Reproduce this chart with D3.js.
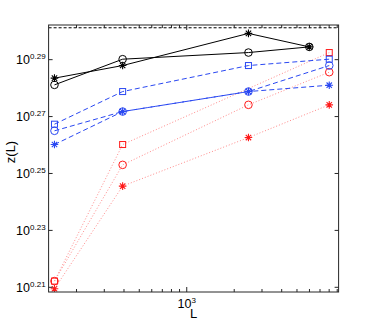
<!DOCTYPE html>
<html>
<head>
<meta charset="utf-8">
<script src="https://cdn.jsdelivr.net/npm/d3@7"></script>
<style>
  body { margin: 0; background: #fff; }
  svg { display: block; font-family: "Liberation Sans", Arial, sans-serif; }
</style>
</head>
<body>
<div id="chart"></div>
<script>
/* data */
const L_black = [146, 395, 2480, 6030];
const L_color = [146, 395, 2480, 8070];
const L_redSq = [146, 395, 8070];

const blackCircle = [1.9097, 1.9498, 1.9603, 1.9693];
const blackStar   = [1.9201, 1.9398, 1.9909, 1.9693];
const blueSquare  = [1.8499, 1.8994, 1.9398, 1.9498];
const blueCircle  = [1.8400, 1.8689, 1.8994, 1.9398];
const blueStar    = [1.8197, 1.8689, 1.8994, 1.9092];
const redSquare   = [1.6293, 1.8197, 1.9603];
const redCircle   = [1.6293, 1.7900, 1.8791, 1.9294];
const redStar     = [1.6192, 1.7595, 1.8300, 1.8791];

const limitLine = 2;                 /*dashed reference line z = 2*/
const yTickExps = ["0.21", "0.23", "0.25", "0.27", "0.29"];
const xTickExps = ["3"];
const xMinor = [200, 300, 400, 500, 600, 700, 800, 900, 2000, 3000, 4000, 5000, 6000, 7000, 8000, 9000];

const svgW = 374, svgH = 328;
const plotLeft = 48.6, plotTop = 25, plotW = 290, plotH = 267;
const axisColor = "#262626";
const blue = "#2a48f2";
const red = "#ff1a1a";
const redLine = "#ff8a8a";

const svg = d3.select("#chart").append("svg")
  .attr("width", svgW).attr("height", svgH);

const x = d3.scaleLog().domain([134, 9250]).range([plotLeft, plotLeft + plotW]);
const y = d3.scaleLog().domain([1.615, 2.0045]).range([plotTop + plotH, plotTop]);

/*series definitions built from the arrays above*/
const series = [
  {L: L_color, z: redStar,    color: red,  line: redLine, dash: "1,2", marker: "star"},
  {L: L_color, z: redCircle,  color: red,  line: redLine, dash: "1,2", marker: "circle"},
  {L: L_redSq, z: redSquare,  color: red,  line: redLine, dash: "1,2", marker: "square"},
  {L: L_color, z: blueStar,   color: blue, line: blue,    dash: "5,3", marker: "star"},
  {L: L_color, z: blueCircle, color: blue, line: blue,    dash: "5,3", marker: "circle"},
  {L: L_color, z: blueSquare, color: blue, line: blue,    dash: "5,3", marker: "square"},
  {L: L_black, z: blackCircle, color: "#000", line: "#000", dash: null, marker: "circle"},
  {L: L_black, z: blackStar,   color: "#000", line: "#000", dash: null, marker: "star"}
];

svg.append("defs").append("clipPath").attr("id", "clip")
  .append("rect").attr("x", plotLeft).attr("y", plotTop).attr("width", plotW).attr("height", plotH);

const plot = svg.append("g").attr("clip-path", "url(#clip)");

/*dashed line at z = 2*/
plot.append("line")
  .attr("x1", plotLeft).attr("x2", plotLeft + plotW)
  .attr("y1", y(limitLine)).attr("y2", y(limitLine))
  .attr("stroke", "#000").attr("stroke-width", 1)
  .attr("stroke-dasharray", "3,2");

const lineGen = d3.line().x(d => x(d[0])).y(d => y(d[1]));

function starPath(r) {
  const d = r * 0.707;
  return `M${-r},0L${r},0M0,${-r}L0,${r}M${-d},${-d}L${d},${d}M${-d},${d}L${d},${-d}`;
}

series.forEach(s => {
  const pts = s.L.map((l, i) => [l, s.z[i]]);
  plot.append("path")
    .attr("d", lineGen(pts))
    .attr("fill", "none")
    .attr("stroke", s.line)
    .attr("stroke-width", 1)
    .attr("stroke-dasharray", s.dash);

  const g = plot.append("g");
  pts.forEach(p => {
    const cx = x(p[0]), cy = y(p[1]);
    if (s.marker === "circle") {
      g.append("circle").attr("cx", cx).attr("cy", cy).attr("r", 3.8)
        .attr("fill", "none").attr("stroke", s.color).attr("stroke-width", 1);
    } else if (s.marker === "square") {
      g.append("rect").attr("x", cx - 3).attr("y", cy - 3).attr("width", 6).attr("height", 6)
        .attr("fill", "none").attr("stroke", s.color).attr("stroke-width", 1);
    } else {
      g.append("path").attr("d", starPath(3.8))
        .attr("transform", `translate(${cx},${cy})`)
        .attr("fill", "none").attr("stroke", s.color).attr("stroke-width", 1.1);
    }
  });
});

/*axes: ticks point inward like the original*/
function styleAxis(g) {
  g.select(".domain").remove();
  g.selectAll("line").attr("stroke", axisColor);
  g.selectAll("text").attr("fill", "#000");
}

const yMajor = yTickExps.map(e => Math.pow(10, +e));
const xMajor = xTickExps.map(e => Math.pow(10, +e));

/*left y axis with 10^e labels*/
const yAxisG = svg.append("g")
  .attr("transform", `translate(${plotLeft},0)`)
  .call(d3.axisLeft(y).tickValues(yMajor).tickSizeInner(-4).tickSizeOuter(0).tickPadding(3))
  .call(styleAxis);
yAxisG.selectAll("text")
  .attr("font-size", 12.5)
  .attr("dy", "0.35em")
  .text("10")
  .each(function(d, i) {
    d3.select(this).append("tspan").attr("dy", -5).attr("font-size", 8).text(yTickExps[i]);
  });

/*right y axis: ticks only*/
svg.append("g")
  .attr("transform", `translate(${plotLeft + plotW},0)`)
  .call(d3.axisRight(y).tickValues(yMajor).tickSizeInner(-4).tickSizeOuter(0).tickFormat(""))
  .call(styleAxis);

/*bottom x axis*/
const xAxisG = svg.append("g")
  .attr("transform", `translate(0,${plotTop + plotH})`)
  .call(d3.axisBottom(x).tickValues(xMajor).tickSizeInner(-5).tickSizeOuter(0).tickPadding(5))
  .call(styleAxis);
xAxisG.selectAll("text")
  .attr("font-size", 12.5)
  .attr("dy", "0.9em")
  .text("10")
  .each(function(d, i) {
    d3.select(this).append("tspan").attr("dy", -5).attr("font-size", 8).text(xTickExps[i]);
  });
svg.append("g")
  .attr("transform", `translate(0,${plotTop + plotH})`)
  .call(d3.axisBottom(x).tickValues(xMinor).tickSizeInner(-3).tickSizeOuter(0).tickFormat(""))
  .call(styleAxis);

/*top x axis: ticks only*/
svg.append("g")
  .attr("transform", `translate(0,${plotTop})`)
  .call(d3.axisTop(x).tickValues(xMajor).tickSizeInner(-5).tickSizeOuter(0).tickFormat(""))
  .call(styleAxis);
svg.append("g")
  .attr("transform", `translate(0,${plotTop})`)
  .call(d3.axisTop(x).tickValues(xMinor).tickSizeInner(-3).tickSizeOuter(0).tickFormat(""))
  .call(styleAxis);

/*box*/
svg.append("rect")
  .attr("x", plotLeft).attr("y", plotTop).attr("width", plotW).attr("height", plotH)
  .attr("fill", "none").attr("stroke", axisColor).attr("stroke-width", 1);

/*axis titles*/
svg.append("text")
  .attr("x", plotLeft + plotW / 2).attr("y", 318)
  .attr("text-anchor", "middle").attr("font-size", 13)
  .text("L");

svg.append("text")
  .attr("transform", `translate(15,152) rotate(-90)`)
  .attr("text-anchor", "middle").attr("font-size", 13)
  .text("z(L)");
</script>
</body>
</html>
